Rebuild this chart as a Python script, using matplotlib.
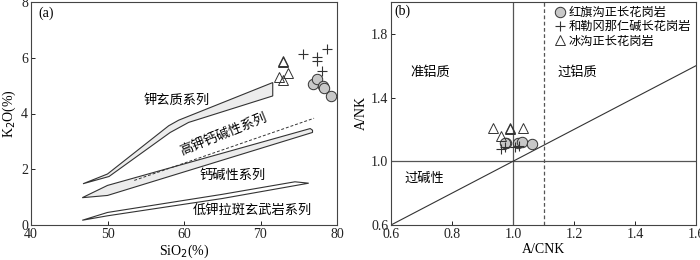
import numpy as np
import matplotlib.pyplot as plt

plt.rcParams['font.family'] = ['Liberation Serif', 'Noto Sans CJK SC']
plt.rcParams['axes.unicode_minus'] = False

# ---- panel (a) data: SiO2 vs K2O ----
# series boundaries
sho_up_x = [46.8, 50.0, 58.0, 59.3, 71.6]
sho_up_y = [1.48, 1.83, 3.56, 3.76, 5.11]
sho_lo_x = [46.8, 50.2, 58.2, 60.6, 71.6]
sho_lo_y = [1.48, 1.74, 3.32, 3.68, 4.63]

hk_up_x = [46.7, 50.0, 76.5, 76.8]
hk_up_y = [0.98, 1.42, 3.46, 3.40]
hk_lo_x = [46.7, 50.0, 76.8]
hk_lo_y = [0.98, 1.06, 3.32]

dash_x = [53.5, 77.0]
dash_y = [1.60, 3.83]

lk_up_x = [46.7, 50.0, 65.0, 74.5, 76.3]
lk_up_y = [0.17, 0.45, 1.10, 1.55, 1.50]
lk_lo_x = [46.7, 50.0, 65.0, 76.3]
lk_lo_y = [0.17, 0.33, 0.95, 1.50]

# samples
hq_sio2 = [76.8, 77.4, 78.2, 78.3, 79.2]
hq_k2o = [5.07, 5.23, 4.99, 4.93, 4.63]
hl_sio2 = [75.6, 77.4, 77.4, 78.7, 78.0]
hl_k2o = [6.14, 6.02, 5.90, 6.33, 5.52]
bg_sio2 = [72.9, 72.9, 73.6, 72.4, 72.9]
bg_k2o = [5.90, 5.83, 5.46, 5.31, 5.20]

# ---- panel (b) data: A/CNK vs A/NK ----
hq_acnk = [0.976, 1.016, 1.030, 1.063, 0.973]
hq_ank = [1.116, 1.112, 1.122, 1.110, 1.116]
hl_acnk = [0.962, 0.973, 1.005, 1.019]
hl_ank = [1.080, 1.090, 1.090, 1.095]
bg_acnk = [0.933, 0.989, 0.991, 1.032, 0.962]
bg_ank = [1.21, 1.21, 1.205, 1.21, 1.16]

names = ['红旗沟正长花岗岩', '和勒冈那仁碱长花岗岩', '冰沟正长花岗岩']

fig = plt.figure(figsize=(7, 2.6), dpi=100)
ax1 = fig.add_axes([31/700, 35/260, 306/700, 223/260])
ax2 = fig.add_axes([391/700, 35/260, 305/700, 223/260])

edge = '#333333'
fill = '#c8c8c8'
band = '#ececec'

def band_poly(ax, ux, uy, lx, ly, fc):
    xs = list(ux) + list(lx[::-1])
    ys = list(uy) + list(ly[::-1])
    ax.fill(xs, ys, facecolor=fc, edgecolor=edge, lw=0.8)

band_poly(ax1, sho_up_x, sho_up_y, sho_lo_x, sho_lo_y, band)
band_poly(ax1, hk_up_x, hk_up_y, hk_lo_x, hk_lo_y, band)
band_poly(ax1, lk_up_x, lk_up_y, lk_lo_x, lk_lo_y, 'white')
ax1.plot(dash_x, dash_y, ls=(0, (3, 2)), color=edge, lw=0.7)

ms = 7.5
ax1.plot(bg_sio2, bg_k2o, ls='none', marker='^', ms=ms, mfc='none', mec=edge, mew=0.7)
ax1.plot(hl_sio2, hl_k2o, ls='none', marker='+', ms=ms, mec=edge, mew=0.8)
ax1.plot(hq_sio2, hq_k2o, ls='none', marker='o', ms=ms, mfc=fill, mec=edge, mew=0.7)

fs = 9.5
ax1.text(59.1, 4.45, '钾玄质系列', ha='center', va='center', fontsize=fs)
ax1.text(65.2, 3.26, '高钾钙碱性系列', ha='center', va='center', fontsize=fs, rotation=22)
ax1.text(66.3, 1.77, '钙碱性系列', ha='center', va='center', fontsize=fs)
ax1.text(69.0, 0.52, '低钾拉斑玄武岩系列', ha='center', va='center', fontsize=fs)
ax1.text(41.0, 7.6, '(a)', ha='left', va='center', fontsize=10)

ax1.set_xlim(40, 80)
ax1.set_ylim(0, 8)
ax1.set_xticks([40, 50, 60, 70, 80])
ax1.set_yticks([0, 2, 4, 6, 8])
ax1.set_xlabel('SiO$_2$(%)', fontsize=10, labelpad=1.5)
ax1.set_ylabel('K$_2$O(%)', fontsize=10, labelpad=2)

# panel (b)
ax2.axvline(1.0, color='#555555', lw=0.9)
ax2.axvline(1.1, color='#555555', lw=0.9, ls=(0, (3, 2)))
ax2.axhline(1.0, color='#555555', lw=0.9)
ax2.plot([0.6, 1.6], [0.6, 1.6], color=edge, lw=0.8)

ax2.plot(hq_acnk, hq_ank, ls='none', marker='o', ms=ms, mfc=fill, mec=edge, mew=0.7, label=names[0])
ax2.plot(hl_acnk, hl_ank, ls='none', marker='+', ms=ms, mec=edge, mew=0.8, label=names[1])
ax2.plot(bg_acnk, bg_ank, ls='none', marker='^', ms=ms, mfc='none', mec=edge, mew=0.7, label=names[2])

ax2.text(0.73, 1.56, '准铝质', ha='center', va='center', fontsize=fs)
ax2.text(1.21, 1.56, '过铝质', ha='center', va='center', fontsize=fs)
ax2.text(0.71, 0.89, '过碱性', ha='center', va='center', fontsize=fs)
ax2.text(0.61, 1.94, '(b)', ha='left', va='center', fontsize=10)

ax2.set_xlim(0.6, 1.6)
ax2.set_ylim(0.6, 2.0)
ax2.set_xticks([0.6, 0.8, 1.0, 1.2, 1.4, 1.6])
ax2.set_yticks([0.6, 1.0, 1.4, 1.8])
ax2.set_xlabel('A/CNK', fontsize=10, labelpad=1.5)
ax2.set_ylabel('A/NK', fontsize=10, labelpad=2)
ax2.legend(loc='upper right', frameon=False, fontsize=8.8, handletextpad=0.2,
           handlelength=1.0, borderpad=0.1, labelspacing=0.2,
           borderaxespad=0.3)

for ax in (ax1, ax2):
    ax.tick_params(direction='in', length=3, width=0.7, labelsize=10, pad=2, colors='#222222')
    for s in ax.spines.values():
        s.set_color('#444444')
        s.set_linewidth(0.8)

fig.savefig('out.png', dpi=100)
